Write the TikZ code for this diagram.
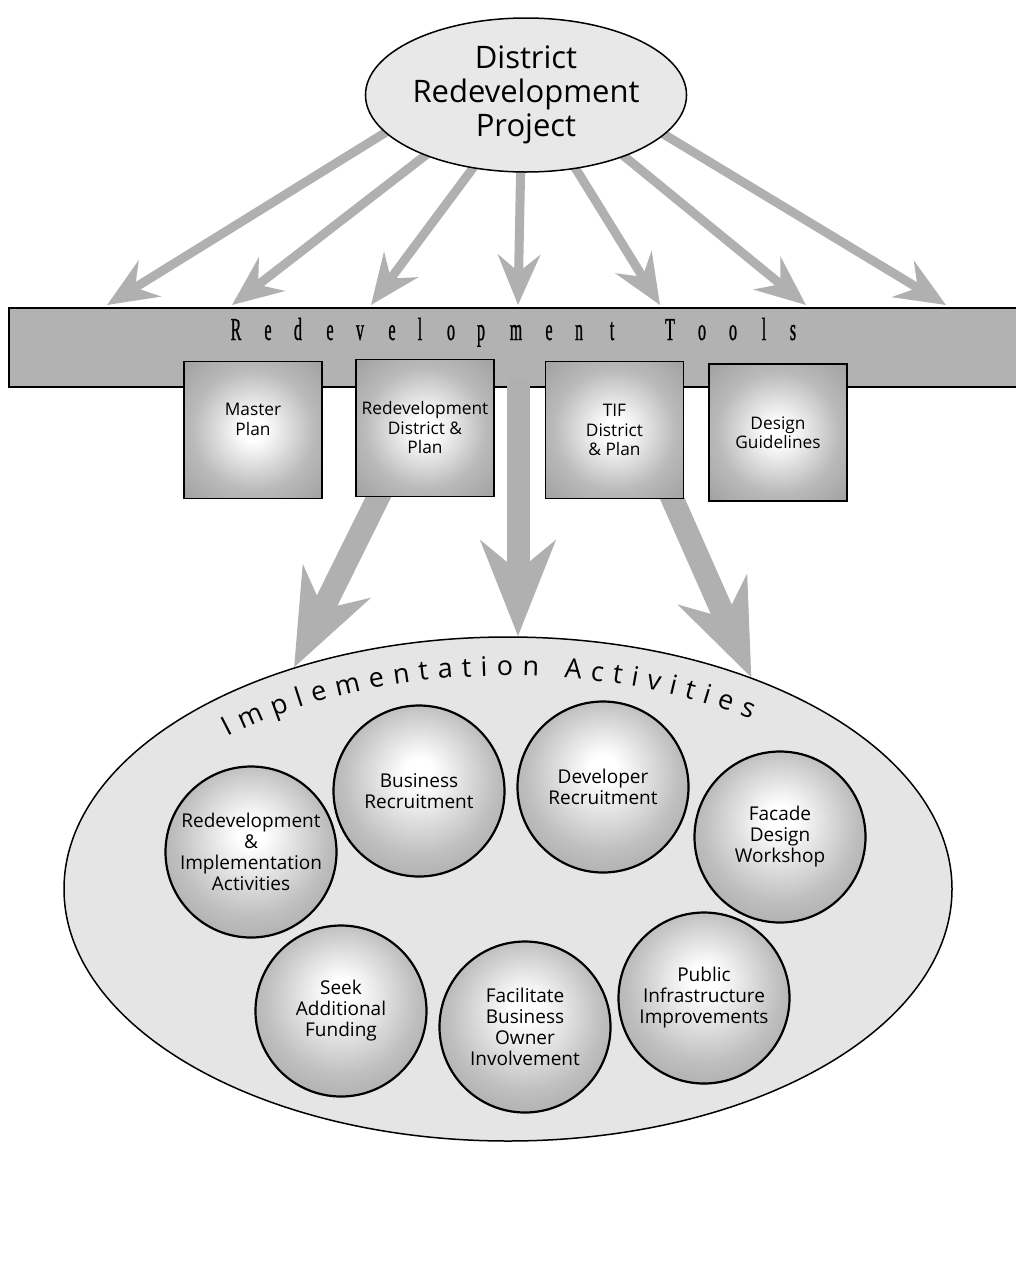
\documentclass[tikz,border=0pt]{standalone}
\usepackage{fontspec}
\setmainfont{Open Sans}
\newfontfamily\barfont[FakeStretch=0.5,FakeBold=0.8]{Liberation Serif}
\usetikzlibrary{positioning,arrows.meta,shapes.geometric,decorations.text,backgrounds}
\newcommand\curvefont{\fontsize{27}{30}\selectfont}
\pgfdeclareradialshading{glow}{\pgfpoint{0bp}{6bp}}{color(0bp)=(white); color(4bp)=(white); color(22bp)=(black!25); color(50bp)=(black!50)}
\pgfdeclareradialshading{glowbox}{\pgfpoint{0bp}{0bp}}{color(0bp)=(white); color(4bp)=(white); color(22bp)=(black!27); color(50bp)=(black!48)}
\tikzset{
  proj/.style={ellipse, draw, line width=1.5pt, fill=black!9, minimum width=302pt, minimum height=154pt, inner sep=0pt, align=center, font=\fontsize{31}{34}\selectfont},
  bar/.style={draw, line width=2pt, fill=black!30, minimum width=1030pt, minimum height=79pt, inner sep=0pt, anchor=north west},
  ltr/.style={anchor=base, inner sep=0pt, font=\barfont\fontsize{32}{32}\selectfont},
  tool/.style={draw, line width=1.5pt, shade, shading=glowbox, minimum width=138pt, minimum height=137pt, inner sep=0pt, align=center, font=\fontsize{17.3}{19.5}\selectfont},
  impl/.style={ellipse, draw, line width=1.5pt, fill=black!10, minimum width=888pt, minimum height=504pt, inner sep=0pt},
  act/.style={circle, draw, line width=2.2pt, shade, shading=glow, minimum size=171pt, inner sep=0pt, align=center, font=\fontsize{19}{21}\selectfont},
  fl/.style={line width=9pt, draw=black!31, -{Stealth[length=50pt, width=42pt, inset=17pt]}},
  bl/.style={line width=23pt, draw=black!31, -{Stealth[length=95pt, width=74pt, inset=30pt]}},
}
\begin{document}
\begin{tikzpicture}[x=1pt, y=-1pt]
\useasboundingbox (0,0) rectangle (1015,1277);
\begin{scope}[on background layer]
  \fill[white] (0,0) rectangle (1015,1277);
\end{scope}

%% ---- the project on top
\node[proj] (proj) at (526,95) {District\\Redevelopment\\Project};

%% ---- the tools bar, letter by letter
\node[bar] (tools) at (8,307) {};
\foreach \ch/\px [count=\i] in {R/236,e/268,d/298,e/330,v/360,e/392,l/420,o/451,p/481,m/516,
                               e/549,n/579,t/612,T/670,o/702,o/733,l/764,s/793}
  \node[ltr] (ltr\i) at (\px,340) {\ch};

%% ---- the seven drops onto the bar
\foreach \i/\x in {1/107,2/232,3/371,4/518,5/660,6/806,7/946}
  \coordinate (drop\i) at (\x,305);
\begin{scope}[on background layer]
  \foreach \a/\i in {195/1,211/2,234/3,266/4,304/5,328/6,344/7}
    \draw[fl, shorten <=-10pt] (proj.\a) -- (drop\i);
\end{scope}

%% ---- implementation activities
\node[impl] (impl) at (508,889) {};
\path[decorate, decoration={text along path, text align={fit to path},
      text={|\curvefont|Implementation Activities}}]
  (228,737) arc[start angle=-134.5, end angle=-52.6, x radius=400, y radius=214];

\node[act] (redev)   at (251,852)  {Redevelopment\\\&\\Implementation\\Activities};
\node[act] (busrec)  at (419,791)  {Business\\Recruitment};
\node[act] (devrec)  at (603,787)  {Developer\\Recruitment};
\node[act] (facade)  at (780,837)  {Facade\\Design\\Workshop};
\node[act] (funding) at (341,1011) {Seek\\Additional\\Funding};
\node[act] (owners)  at (525,1027) {Facilitate\\Business\\Owner\\Involvement};
\node[act] (infra)   at (704,998)  {Public\\Infrastructure\\Improvements};

%% ---- the four tools
\node[tool] (master) at (253,430)   {Master\\Plan\\[2pt]};
\node[tool] (rdp)    at (425,428)   {Redevelopment\\District \&\\Plan};
\node[tool] (tif)    at (614.5,430) {TIF\\District\\\& Plan};
\node[tool] (design) at (778,432.5) {Design\\Guidelines};

%% ---- from the tools down to the activities
\coordinate (stem) at (518,378);
\draw[bl] (stem) -- (stem |- impl.north);
\begin{scope}[on background layer]
  \draw[bl, shorten <=-12pt] (rdp.-124) -- (impl.134.6);
  \draw[bl, shorten <=-12pt] (tif.-50) -- (impl.41.2);
\end{scope}
\end{tikzpicture}
\end{document}
